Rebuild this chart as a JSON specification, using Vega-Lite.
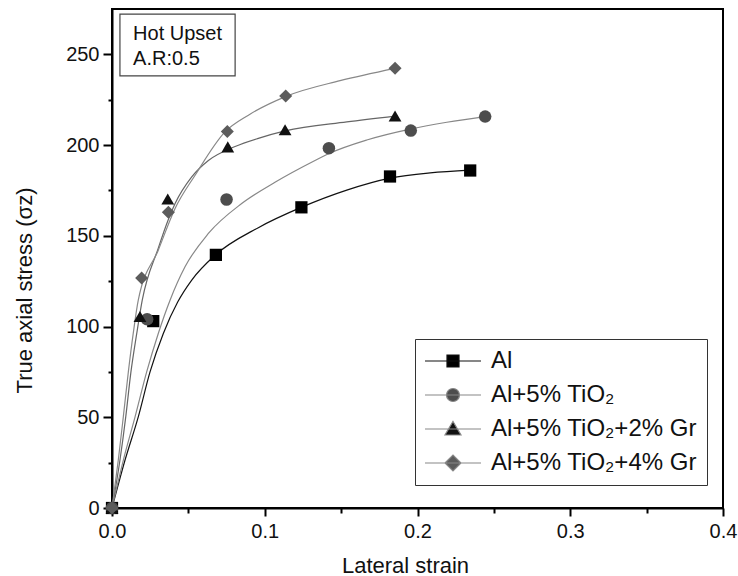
{
  "$schema": "https://vega.github.io/schema/vega-lite/v6.json",
  "width": 611,
  "height": 499,
  "autosize": {"type": "none"},
  "padding": {"left": 112, "top": 9, "right": 15, "bottom": 68},
  "background": "white",
  "config": {
    "view": {"stroke": "#000", "strokeWidth": 2},
    "font": "Liberation Sans",
    "axis": {
      "domainColor": "#000", "domainWidth": 2, "tickColor": "#000", "tickWidth": 2, "grid": false,
      "labelFont": "Liberation Sans", "labelFontSize": 20, "labelColor": "#111",
      "titleFont": "Liberation Sans", "titleFontSize": 22, "titleFontWeight": "normal", "titleColor": "#111",
      "labelFlush": false, "labelOverlap": false
    }
  },
  "datasets": {
    "curves": [
      {"series": "Al", "strain": 0, "stress": 0},
      {"series": "Al", "strain": 0.0085, "stress": 26.3},
      {"series": "Al", "strain": 0.0172, "stress": 50.2},
      {"series": "Al", "strain": 0.0249, "stress": 75.0},
      {"series": "Al", "strain": 0.0336, "stress": 96.2},
      {"series": "Al", "strain": 0.043, "stress": 113.5},
      {"series": "Al", "strain": 0.0522, "stress": 125.6},
      {"series": "Al", "strain": 0.0675, "stress": 139.3},
      {"series": "Al", "strain": 0.0958, "stress": 154.5},
      {"series": "Al", "strain": 0.1242, "stress": 165.8},
      {"series": "Al", "strain": 0.1537, "stress": 175.2},
      {"series": "Al", "strain": 0.1821, "stress": 181.8},
      {"series": "Al", "strain": 0.2083, "stress": 184.7},
      {"series": "Al", "strain": 0.2344, "stress": 186.2},
      {"series": "Al+5% TiO₂", "strain": 0, "stress": 0},
      {"series": "Al+5% TiO₂", "strain": 0.0074, "stress": 26.3},
      {"series": "Al+5% TiO₂", "strain": 0.0151, "stress": 50.2},
      {"series": "Al+5% TiO₂", "strain": 0.0227, "stress": 75.0},
      {"series": "Al+5% TiO₂", "strain": 0.0303, "stress": 96.2},
      {"series": "Al+5% TiO₂", "strain": 0.038, "stress": 114.5},
      {"series": "Al+5% TiO₂", "strain": 0.0478, "stress": 132.9},
      {"series": "Al+5% TiO₂", "strain": 0.0631, "stress": 151.3},
      {"series": "Al+5% TiO₂", "strain": 0.0849, "stress": 167.8},
      {"series": "Al+5% TiO₂", "strain": 0.1067, "stress": 179.5},
      {"series": "Al+5% TiO₂", "strain": 0.1329, "stress": 191.5},
      {"series": "Al+5% TiO₂", "strain": 0.1417, "stress": 195.2},
      {"series": "Al+5% TiO₂", "strain": 0.1668, "stress": 202.8},
      {"series": "Al+5% TiO₂", "strain": 0.1952, "stress": 208.8},
      {"series": "Al+5% TiO₂", "strain": 0.2192, "stress": 212.6},
      {"series": "Al+5% TiO₂", "strain": 0.2443, "stress": 215.7},
      {"series": "Al+5% TiO₂+2% Gr", "strain": 0, "stress": 0},
      {"series": "Al+5% TiO₂+2% Gr", "strain": 0.0052, "stress": 26.3},
      {"series": "Al+5% TiO₂+2% Gr", "strain": 0.009, "stress": 50.2},
      {"series": "Al+5% TiO₂+2% Gr", "strain": 0.0124, "stress": 75.0},
      {"series": "Al+5% TiO₂+2% Gr", "strain": 0.0162, "stress": 96.2},
      {"series": "Al+5% TiO₂+2% Gr", "strain": 0.0198, "stress": 114.5},
      {"series": "Al+5% TiO₂+2% Gr", "strain": 0.0303, "stress": 143.2},
      {"series": "Al+5% TiO₂+2% Gr", "strain": 0.0367, "stress": 158.6},
      {"series": "Al+5% TiO₂+2% Gr", "strain": 0.0413, "stress": 167.8},
      {"series": "Al+5% TiO₂+2% Gr", "strain": 0.0522, "stress": 182.5},
      {"series": "Al+5% TiO₂+2% Gr", "strain": 0.0631, "stress": 191.5},
      {"series": "Al+5% TiO₂+2% Gr", "strain": 0.0806, "stress": 199.2},
      {"series": "Al+5% TiO₂+2% Gr", "strain": 0.0958, "stress": 203.7},
      {"series": "Al+5% TiO₂+2% Gr", "strain": 0.1133, "stress": 207.8},
      {"series": "Al+5% TiO₂+2% Gr", "strain": 0.1537, "stress": 212.8},
      {"series": "Al+5% TiO₂+2% Gr", "strain": 0.1853, "stress": 216.0},
      {"series": "Al+5% TiO₂+4% Gr", "strain": 0, "stress": 0},
      {"series": "Al+5% TiO₂+4% Gr", "strain": 0.0041, "stress": 26.3},
      {"series": "Al+5% TiO₂+4% Gr", "strain": 0.0074, "stress": 50.2},
      {"series": "Al+5% TiO₂+4% Gr", "strain": 0.0107, "stress": 75.0},
      {"series": "Al+5% TiO₂+4% Gr", "strain": 0.0139, "stress": 96.2},
      {"series": "Al+5% TiO₂+4% Gr", "strain": 0.0172, "stress": 114.5},
      {"series": "Al+5% TiO₂+4% Gr", "strain": 0.0303, "stress": 142.1},
      {"series": "Al+5% TiO₂+4% Gr", "strain": 0.0413, "stress": 165.1},
      {"series": "Al+5% TiO₂+4% Gr", "strain": 0.0544, "stress": 183.4},
      {"series": "Al+5% TiO₂+4% Gr", "strain": 0.074, "stress": 207.3},
      {"series": "Al+5% TiO₂+4% Gr", "strain": 0.0893, "stress": 216.5},
      {"series": "Al+5% TiO₂+4% Gr", "strain": 0.1144, "stress": 227.0},
      {"series": "Al+5% TiO₂+4% Gr", "strain": 0.1493, "stress": 235.5},
      {"series": "Al+5% TiO₂+4% Gr", "strain": 0.1853, "stress": 242.3}
    ],
    "points": [
      {"series": "Al", "strain": 0, "stress": 0},
      {"series": "Al", "strain": 0.027, "stress": 103},
      {"series": "Al", "strain": 0.068, "stress": 139.5},
      {"series": "Al", "strain": 0.124, "stress": 165.7},
      {"series": "Al", "strain": 0.182, "stress": 182.7},
      {"series": "Al", "strain": 0.2345, "stress": 186},
      {"series": "Al+5% TiO₂", "strain": 0, "stress": 0},
      {"series": "Al+5% TiO₂", "strain": 0.023, "stress": 104},
      {"series": "Al+5% TiO₂", "strain": 0.075, "stress": 170},
      {"series": "Al+5% TiO₂", "strain": 0.142, "stress": 198.3},
      {"series": "Al+5% TiO₂", "strain": 0.1956, "stress": 208},
      {"series": "Al+5% TiO₂", "strain": 0.2443, "stress": 215.7},
      {"series": "Al+5% TiO₂+2% Gr", "strain": 0, "stress": 0},
      {"series": "Al+5% TiO₂+2% Gr", "strain": 0.0183, "stress": 105.5},
      {"series": "Al+5% TiO₂+2% Gr", "strain": 0.0365, "stress": 170.3},
      {"series": "Al+5% TiO₂+2% Gr", "strain": 0.0758, "stress": 199},
      {"series": "Al+5% TiO₂+2% Gr", "strain": 0.1133, "stress": 208.5},
      {"series": "Al+5% TiO₂+2% Gr", "strain": 0.1853, "stress": 216},
      {"series": "Al+5% TiO₂+4% Gr", "strain": 0, "stress": 0},
      {"series": "Al+5% TiO₂+4% Gr", "strain": 0.0194, "stress": 126.8},
      {"series": "Al+5% TiO₂+4% Gr", "strain": 0.0369, "stress": 163},
      {"series": "Al+5% TiO₂+4% Gr", "strain": 0.0755, "stress": 207.5},
      {"series": "Al+5% TiO₂+4% Gr", "strain": 0.1137, "stress": 227},
      {"series": "Al+5% TiO₂+4% Gr", "strain": 0.1853, "stress": 242.3}
    ]
  },
  "layer": [
    {
      "data": {"name": "curves"},
      "mark": {"type": "line", "interpolate": "monotone", "strokeWidth": 1.2},
      "encoding": {
        "x": {"field": "strain", "type": "quantitative",
          "scale": {"domain": [0, 0.4], "nice": false, "zero": false},
          "axis": {"title": "Lateral strain", "values": [0, 0.1, 0.2, 0.3, 0.4], "format": ".1f", "tickSize": 8, "labelPadding": 5, "titleX": 293, "titleY": 64, "titleBaseline": "alphabetic", "titleAnchor": null}},
        "y": {"field": "stress", "type": "quantitative",
          "scale": {"domain": [0, 275], "nice": false, "zero": false},
          "axis": {"title": "True axial stress (σz)", "values": [0, 50, 100, 150, 200, 250], "tickSize": 9, "labelPadding": 4, "titleX": -81, "titleY": 281, "titleBaseline": "alphabetic", "titleAngle": -90, "titleAlign": "center"}},
        "stroke": {"field": "series", "type": "nominal",
          "scale": {"domain": ["Al", "Al+5% TiO₂", "Al+5% TiO₂+2% Gr", "Al+5% TiO₂+4% Gr"], "range": ["#111111", "#888888", "#666666", "#888888"]},
          "legend": null},
        "detail": {"field": "series", "type": "nominal"}
      }
    },
    {
      "data": {"name": "points"},
      "mark": {"type": "point", "filled": true, "opacity": 1},
      "encoding": {
        "x": {"field": "strain", "type": "quantitative", "axis": null},
        "y": {"field": "stress", "type": "quantitative", "axis": null},
        "shape": {"field": "series", "type": "nominal",
          "scale": {"domain": ["Al", "Al+5% TiO₂", "Al+5% TiO₂+2% Gr", "Al+5% TiO₂+4% Gr"], "range": ["square", "circle", "triangle-up", "diamond"]},
          "legend": null},
        "color": {"field": "series", "type": "nominal",
          "scale": {"domain": ["Al", "Al+5% TiO₂", "Al+5% TiO₂+2% Gr", "Al+5% TiO₂+4% Gr"], "range": ["#000000", "#4d4d4d", "#111111", "#5c5c5c"]},
          "legend": null},
        "size": {"field": "series", "type": "nominal",
          "scale": {"domain": ["Al", "Al+5% TiO₂", "Al+5% TiO₂+2% Gr", "Al+5% TiO₂+4% Gr"], "range": [150, 170, 230, 260]},
          "legend": null}
      }
    },
    {
      "data": {"name": "points"},
      "mark": {"type": "point", "filled": true, "opacity": 0, "size": 400, "strokeWidth": 1.2},
      "encoding": {
        "x": {"field": "strain", "type": "quantitative", "axis": null},
        "y": {"field": "stress", "type": "quantitative", "axis": null},
        "shape": {"field": "series", "type": "nominal",
          "scale": {"domain": ["Al", "Al+5% TiO₂", "Al+5% TiO₂+2% Gr", "Al+5% TiO₂+4% Gr"],
            "range": ["M-2.8,0H2.8M-0.6,-0.6H0.6V0.6H-0.6Z", "M-2.8,0H2.8M-0.65,0A0.65,0.65,0,1,0,0.65,0A0.65,0.65,0,1,0,-0.65,0Z", "M-2.8,0H2.8M0,-0.75L0.8,0.6H-0.8Z", "M-2.8,0H2.8M-0.8,0L0,-0.8L0.8,0L0,0.8Z"]},
          "legend": {"title": null, "orient": "none", "legendX": 303, "legendY": 330, "padding": 10, "symbolSize": 400, "symbolOffset": 16, "labelOffset": 26, "rowPadding": 10, "labelFont": "Liberation Sans", "labelFontSize": 24, "labelColor": "#111", "labelLimit": 0, "strokeColor": "#333", "fillColor": "white", "symbolStrokeWidth": 1.2, "symbolOpacity": 1}},
        "fill": {"field": "series", "type": "nominal",
          "scale": {"domain": ["Al", "Al+5% TiO₂", "Al+5% TiO₂+2% Gr", "Al+5% TiO₂+4% Gr"], "range": ["#000000", "#4d4d4d", "#111111", "#5c5c5c"]},
          "legend": {"title": null, "orient": "none", "legendX": 303, "legendY": 330, "padding": 10, "symbolSize": 400, "symbolOffset": 16, "labelOffset": 26, "rowPadding": 10, "labelFont": "Liberation Sans", "labelFontSize": 24, "labelColor": "#111", "labelLimit": 0, "strokeColor": "#333", "fillColor": "white", "symbolStrokeWidth": 1.2, "symbolOpacity": 1}},
        "stroke": {"field": "series", "type": "nominal",
          "scale": {"domain": ["Al", "Al+5% TiO₂", "Al+5% TiO₂+2% Gr", "Al+5% TiO₂+4% Gr"], "range": ["#111111", "#888888", "#888888", "#888888"]},
          "legend": {"title": null, "orient": "none", "legendX": 303, "legendY": 330, "padding": 10, "symbolSize": 400, "symbolOffset": 16, "labelOffset": 26, "rowPadding": 10, "labelFont": "Liberation Sans", "labelFontSize": 24, "labelColor": "#111", "labelLimit": 0, "strokeColor": "#333", "fillColor": "white", "symbolStrokeWidth": 1.2, "symbolOpacity": 1}}
      }
    },
    {
      "data": {"values": [{"label": "Hot Upset box"}]},
      "mark": {"type": "rect", "fill": "white", "stroke": "#444", "strokeWidth": 1.2},
      "encoding": {
        "x": {"datum": 0.0052, "type": "quantitative",
          "axis": {"values": [0.05, 0.15, 0.25, 0.35], "labels": false, "domain": false, "tickSize": 5, "title": null, "orient": "bottom"}},
        "x2": {"datum": 0.0806},
        "y": {"datum": 272.2, "type": "quantitative",
          "axis": {"values": [25, 75, 125, 175, 225], "labels": false, "domain": false, "tickSize": 4, "title": null, "orient": "left"}},
        "y2": {"datum": 238.2}
      }
    },
    {
      "data": {"values": [{"label": "Hot Upset"}]},
      "mark": {"type": "text", "text": ["Hot Upset", "A.R:0.5"], "align": "left", "baseline": "alphabetic", "fontSize": 20, "font": "Liberation Sans", "color": "#111", "lineHeight": 25},
      "encoding": {
        "x": {"datum": 0.0138, "type": "quantitative", "axis": null},
        "y": {"datum": 257.9, "type": "quantitative", "axis": null}
      }
    }
  ],
  "resolve": {
    "axis": {"x": "independent", "y": "independent"},
    "scale": {"shape": "independent", "stroke": "independent", "size": "independent", "color": "independent", "fill": "independent"}
  }
}
